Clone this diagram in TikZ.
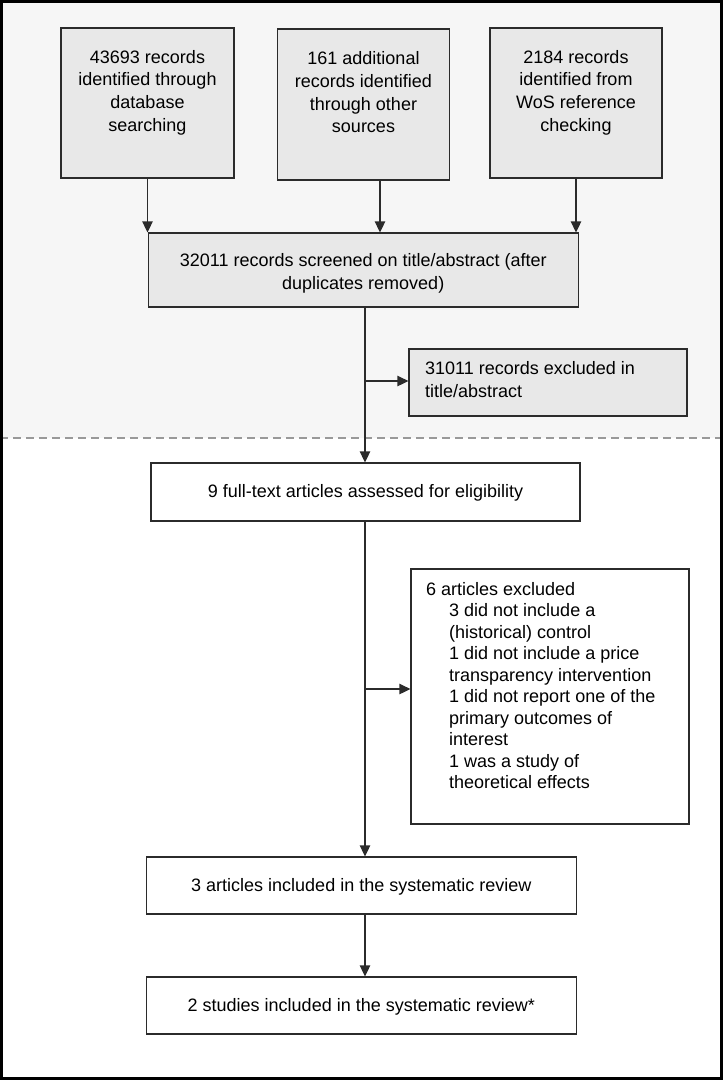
\documentclass[tikz,border=0pt]{standalone}
\usepackage{fontspec}
\setmainfont{Liberation Sans}
\usetikzlibrary{arrows.meta}
\definecolor{topbg}{HTML}{F6F6F6}
\definecolor{boxgrey}{HTML}{E8E8E8}
\definecolor{linec}{HTML}{2B2B2B}
\begin{document}
\begin{tikzpicture}[x=1pt,y=-1pt,
  box/.style={draw=linec, line width=1.3pt, inner sep=0pt, font=\fontsize{18}{22.7}\selectfont},
  greybox/.style={box, fill=boxgrey},
  whitebox/.style={box, fill=white},
  lbl/.style={inner sep=0pt, align=center, font=\fontsize{18}{22.7}\selectfont},
  arr/.style={draw=linec, line width=1.3pt, -{Triangle[length=11pt,width=10.5pt]}}]
\useasboundingbox (0,0) rectangle (723,1080);
\fill[topbg] (0,0) rectangle (723,438);
\draw[gray!80, line width=1.8pt, dash pattern=on 8pt off 5pt] (0,438) -- (723,438);

% top boxes
\node[greybox, minimum width=173pt, minimum height=150pt] (b1) at (147.5,103) {};
\node[lbl, anchor=north] (t1) at (147.5,50) {43693 records\\identified through\\database\\searching};
\node[greybox, minimum width=172pt, minimum height=151pt] (b2) at (363.5,104.5) {};
\node[lbl, anchor=north] (t2) at (363.5,51.5) {161 additional\\records identified\\through other\\sources};
\node[greybox, minimum width=172pt, minimum height=150pt] (b3) at (576,103) {};
\node[lbl, anchor=north] (t3) at (576,50) {2184 records\\identified from\\WoS reference\\checking};

\node[greybox, minimum width=430pt, minimum height=74pt] (scr) at (363.25,270) {};
\node[lbl] (tscr) at (363.25,273.5) {32011 records screened on title/abstract (after\\duplicates removed)};
\node[greybox, minimum width=278pt, minimum height=67pt] (ex1) at (548,382.5) {};
\node[lbl, anchor=west, align=left] (tex1) at (425,379.5) {31011 records excluded in\\title/abstract};

\node[whitebox, minimum width=429pt, minimum height=58pt] (full) at (365.5,492) {};
\node[lbl] (tfull) at (365.5,493) {9 full-text articles assessed for eligibility};
\node[whitebox, minimum width=278pt, minimum height=255pt] (ex2) at (550,696.5) {};
\node[lbl, anchor=north west, align=left, font=\fontsize{18}{21.5}\selectfont] (t5) at (426,582)
  {6 articles excluded\\
   \hspace*{23pt}3 did not include a\\
   \hspace*{23pt}(historical) control\\
   \hspace*{23pt}1 did not include a price\\
   \hspace*{23pt}transparency intervention\\
   \hspace*{23pt}1 did not report one of the\\
   \hspace*{23pt}primary outcomes of\\
   \hspace*{23pt}interest\\
   \hspace*{23pt}1 was a study of\\
   \hspace*{23pt}theoretical effects};
\node[whitebox, minimum width=430pt, minimum height=57pt] (inc1) at (361.3,885.5) {};
\node[lbl] (tinc1) at (361.3,887) {3 articles included in the systematic review};
\node[whitebox, minimum width=430pt, minimum height=57pt] (inc2) at (361.3,1005.5) {};
\node[lbl] (tinc2) at (361.3,1007) {2 studies included in the systematic review*};

% connectors
\coordinate (m1) at (365,381);
\coordinate (m2) at (365,689);
\coordinate (a2) at (380,200);
\draw[arr] (b1.south) -- (scr.north -| b1.south);
\draw[arr] (b2.south -| a2) -- (scr.north -| a2);
\draw[arr] (b3.south) -- (scr.north -| b3.south);
\draw[arr] (scr.south -| m1) -- (full.north -| m1);
\draw[arr] (m1) -- (ex1.west |- m1);
\draw[arr] (full.south -| m2) -- (inc1.north -| m2);
\draw[arr] (m2) -- (ex2.west |- m2);
\draw[arr] (inc1.south -| m2) -- (inc2.north -| m2);

\draw[black, line width=3pt] (1.5,1.5) rectangle (721.5,1078.5);
\end{tikzpicture}
\end{document}
